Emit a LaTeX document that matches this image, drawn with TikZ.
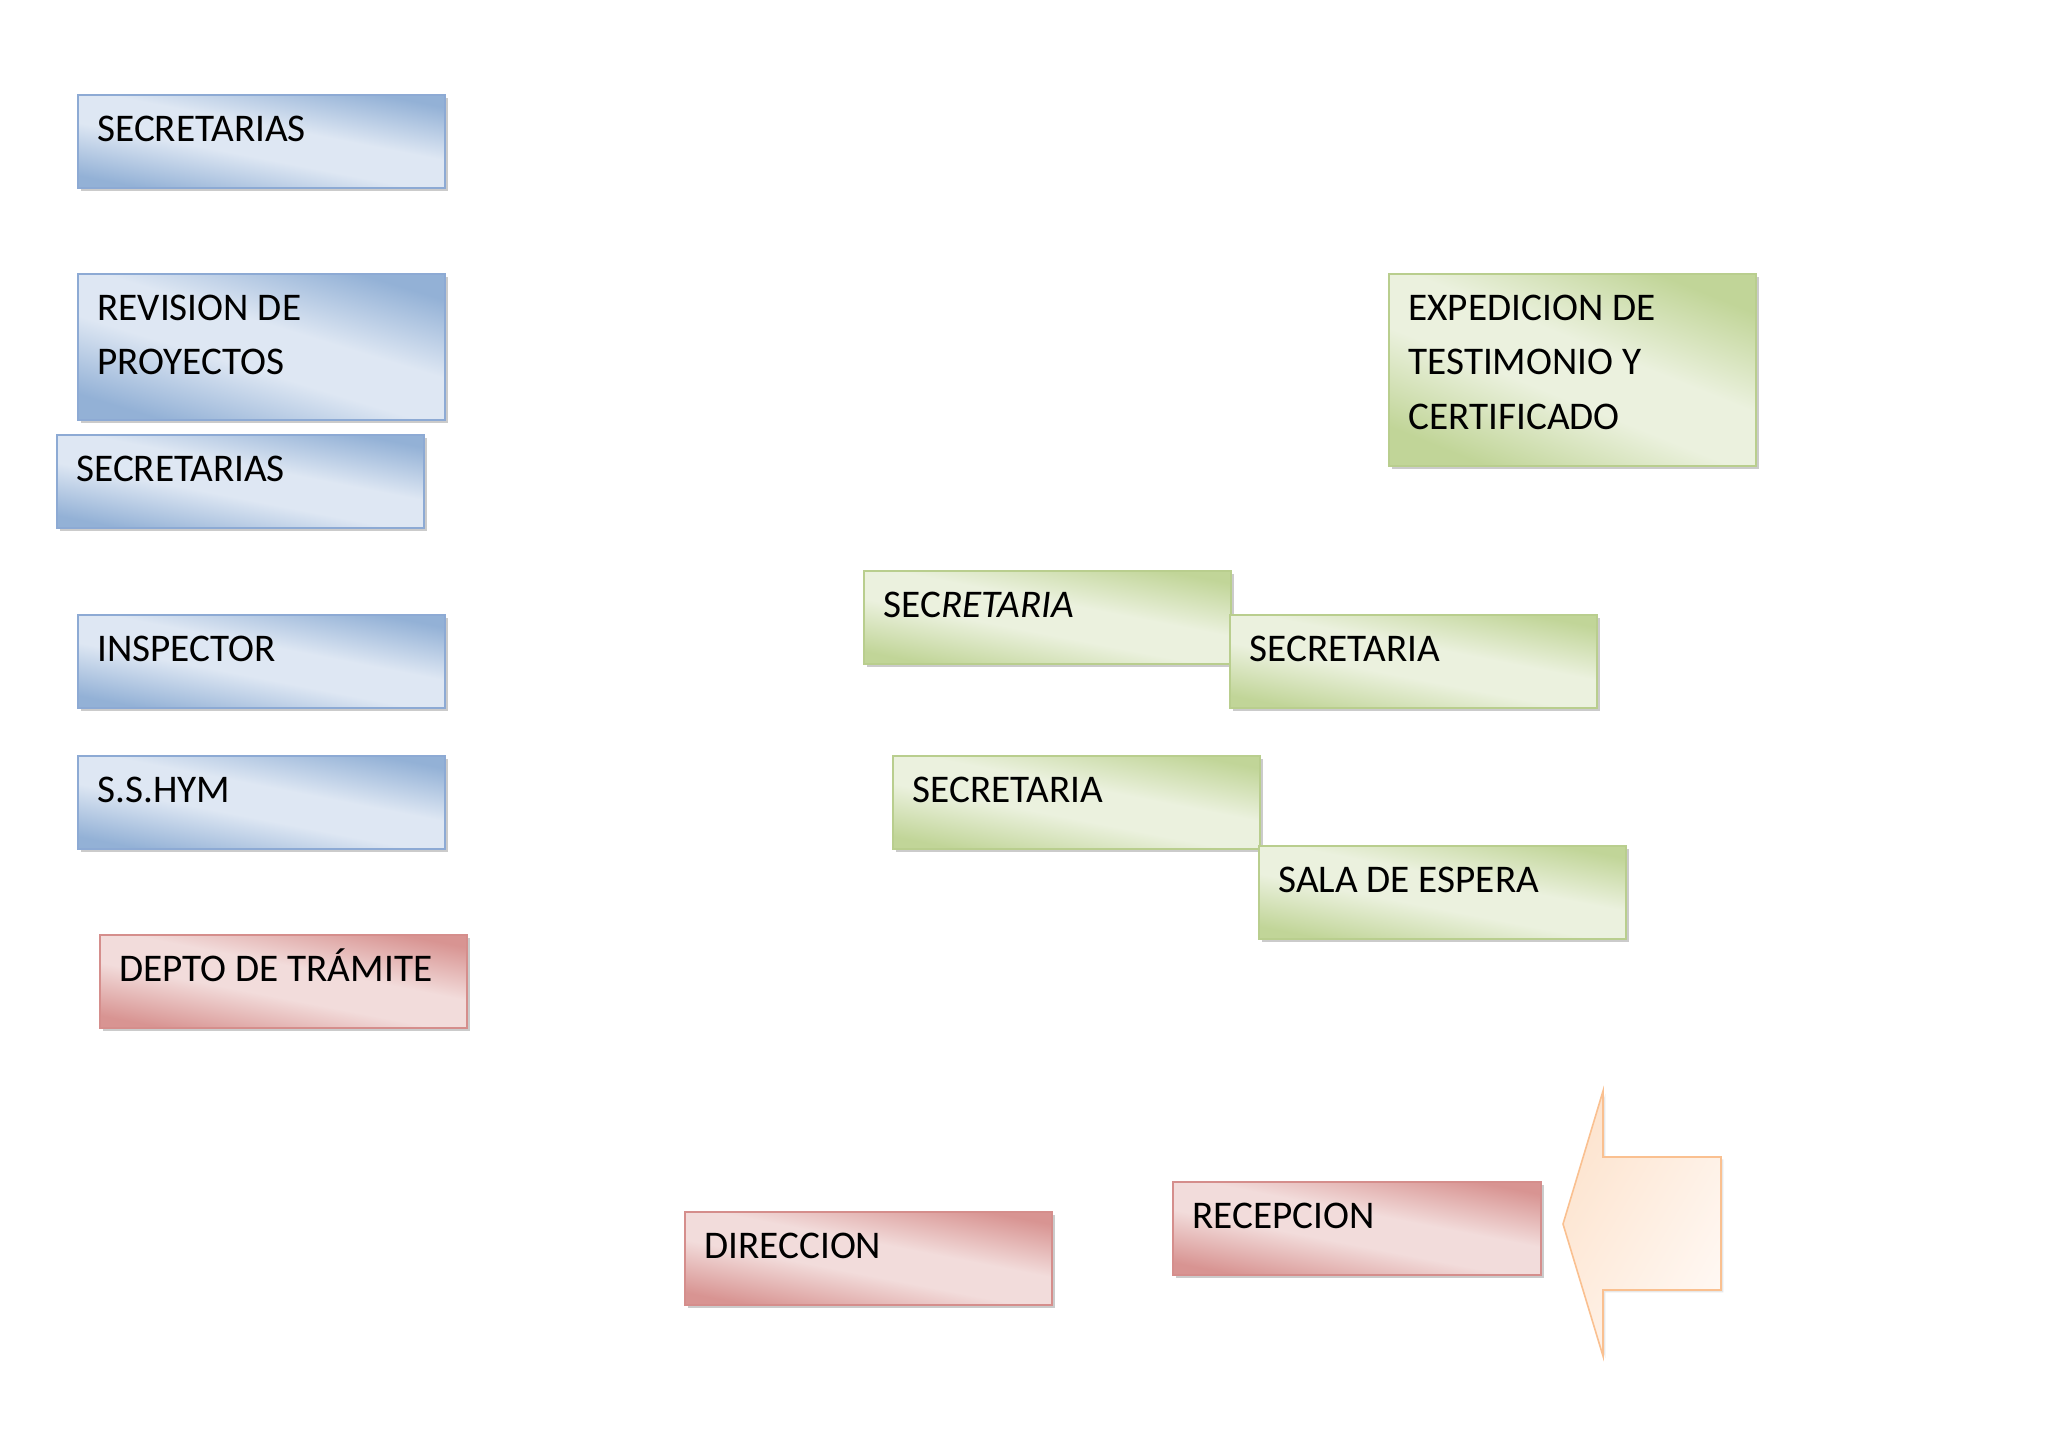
\documentclass[tikz,border=0pt]{standalone}
\usepackage{fontspec}
\setmainfont{Carlito}
\usetikzlibrary{shadows,calc}
\definecolor{bluedk}{HTML}{93B1D6}
\definecolor{bluelt}{HTML}{DEE7F3}
\definecolor{blueln}{HTML}{8DAAD4}
\definecolor{greendk}{HTML}{C1D598}
\definecolor{greenlt}{HTML}{EBF1DE}
\definecolor{greenln}{HTML}{B9CE8E}
\definecolor{reddk}{HTML}{D89492}
\definecolor{redlt}{HTML}{F2DCDB}
\definecolor{redln}{HTML}{D58E8C}
\definecolor{orln}{HTML}{FAC090}
\definecolor{ordk}{HTML}{FDE4CF}
\definecolor{orlt}{HTML}{FFF8F3}
\pgfdeclareverticalshading{bluesh}{100bp}{color(0bp)=(bluedk); color(25bp)=(bluedk); color(44bp)=(bluelt); color(56bp)=(bluelt); color(75bp)=(bluedk); color(100bp)=(bluedk)}
\pgfdeclareverticalshading{greensh}{100bp}{color(0bp)=(greendk); color(25bp)=(greendk); color(44bp)=(greenlt); color(56bp)=(greenlt); color(75bp)=(greendk); color(100bp)=(greendk)}
\pgfdeclareverticalshading{redsh}{100bp}{color(0bp)=(reddk); color(25bp)=(reddk); color(44bp)=(redlt); color(56bp)=(redlt); color(75bp)=(reddk); color(100bp)=(reddk)}
\tikzset{
  box/.style={anchor=north west, inner sep=0pt, minimum width=183.5pt, minimum height=46.5pt, line width=0.8pt,
    drop shadow={shadow xshift=1.4pt, shadow yshift=-1.4pt, fill=black!45, opacity=0.45}},
  bluebox/.style={box, draw=blueln, shade, shading=bluesh, shading angle=-11},
  greenbox/.style={box, draw=greenln, shade, shading=greensh, shading angle=-11},
  redbox/.style={box, draw=redln, shade, shading=redsh, shading angle=-11},
  txt/.style={anchor=base west, inner sep=0pt, font=\fontsize{19.6pt}{27.4pt}\selectfont}
}
\begin{document}
\begin{tikzpicture}[x=0.5pt, y=-0.5pt]
\useasboundingbox (0,0) rectangle (2048,1448);
\fill[white] (0,0) rectangle (2048,1448);

% left column
\node[bluebox] (sec1) at (77,94) {};
\node[txt] (t-sec1) at ($(sec1.north west)+(20,47)$) {SECRETARIAS};

\node[bluebox, minimum height=73pt, shading angle=-17] (rev) at (77,273) {};
\node[txt] (t-rev1) at ($(rev.north west)+(20,47)$) {REVISION DE};
\node[txt] (t-rev2) at ($(rev.north west)+(20,101.8)$) {PROYECTOS};

\node[bluebox] (sec2) at (56,434) {};
\node[txt] (t-sec2) at ($(sec2.north west)+(20,47)$) {SECRETARIAS};

\node[bluebox] (insp) at (77,614) {};
\node[txt] (t-insp) at ($(insp.north west)+(20,47)$) {INSPECTOR};

\node[bluebox] (sshym) at (77,755) {};
\node[txt] (t-sshym) at ($(sshym.north west)+(20,47)$) {S.S.HYM};

\node[redbox] (depto) at (99,934) {};
\node[txt] (t-depto) at ($(depto.north west)+(20,47)$) {DEPTO DE TRÁMITE};

% right side
\node[greenbox, minimum height=96pt, shading angle=-22] (exped) at (1388,273) {};
\node[txt] (t-exp1) at ($(exped.north west)+(20,47)$) {EXPEDICION DE};
\node[txt] (t-exp2) at ($(exped.north west)+(20,101.8)$) {TESTIMONIO Y};
\node[txt] (t-exp3) at ($(exped.north west)+(20,156.6)$) {CERTIFICADO};

\node[greenbox] (seca) at (863,570) {};
\node[txt] (t-seca) at ($(seca.north west)+(20,47)$) {SEC\textit{RETARIA}};

\node[greenbox] (secb) at (1229,614) {};
\node[txt] (t-secb) at ($(secb.north west)+(20,47)$) {SECRETARIA};

\node[greenbox] (secc) at (892,755) {};
\node[txt] (t-secc) at ($(secc.north west)+(20,47)$) {SECRETARIA};

\node[greenbox] (sala) at (1258,845) {};
\node[txt] (t-sala) at ($(sala.north west)+(20,47)$) {SALA DE ESPERA};

\node[redbox] (dir) at (684,1211) {};
\node[txt] (t-dir) at ($(dir.north west)+(20,47)$) {DIRECCION};

\node[redbox, minimum width=184pt] (rec) at (1172,1181) {};
\node[txt] (t-rec) at ($(rec.north west)+(20,47)$) {RECEPCION};

% block arrow
\draw[draw=orln, line width=0.8pt, left color=ordk, right color=orlt, shading angle=60,
      drop shadow={shadow xshift=1.2pt, shadow yshift=-1.2pt, fill=black!30, opacity=0.3}]
  (1563,1224) -- (1603,1091) -- (1603,1157) -- (1721,1157) -- (1721,1290)
  -- (1603,1290) -- (1603,1356) -- cycle;
\end{tikzpicture}
\end{document}
